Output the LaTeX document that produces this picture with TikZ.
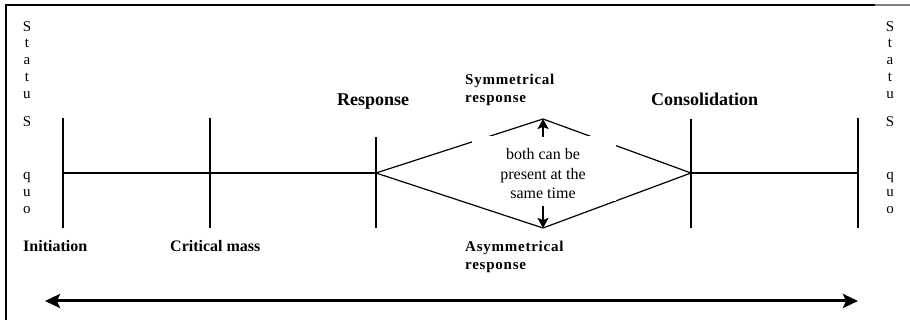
\documentclass[tikz,border=0pt]{standalone}
\usepackage{fontspec}
\setmainfont{Liberation Serif}
\newfontfamily\lsfont[LetterSpace=5]{Liberation Serif}
\usetikzlibrary{arrows.meta}
\begin{document}
\begin{tikzpicture}[x=1pt,y=-1pt,
  thinline/.style={line width=1.2pt},
  stage/.style={font=\fontsize{16}{19}\selectfont\bfseries, anchor=base west, inner sep=0pt},
  bigstage/.style={font=\fontsize{18}{21}\selectfont\bfseries, anchor=base west, inner sep=0pt},
  resp/.style={font=\fontsize{15}{18}\selectfont\lsfont\bfseries, anchor=base west, inner sep=0pt, align=left},
  sq/.style={font=\fontsize{15}{18}\selectfont, anchor=base, inner sep=0pt},
  smallarr/.style={line width=2.2pt, -{Stealth[length=10pt,width=11pt,inset=2pt]}},
  bigarr/.style={line width=3pt, {Stealth[length=15pt,width=14pt,inset=3pt]}-{Stealth[length=15pt,width=14pt,inset=3pt]}}
]
\useasboundingbox (0,0) rectangle (910,320);
% frame
\draw[line width=1.2pt] (6,320) -- (6,5) -- (875,5);
\draw[line width=1.2pt, gray] (875,5) -- (910,5);

% ticks
\coordinate (i1) at (63,118);  \coordinate (i2) at (63,228);
\coordinate (c1) at (210,118); \coordinate (c2) at (210,228);
\coordinate (r1) at (376,137); \coordinate (r2) at (376,228);
\coordinate (k1) at (691,119); \coordinate (k2) at (691,228);
\coordinate (e1) at (858,118); \coordinate (e2) at (858,228);
\draw[thinline] (i1) -- (i2) (c1) -- (c2) (r1) -- (r2) (k1) -- (k2) (e1) -- (e2);

% axis and diamond
\coordinate (a0) at (63,173);
\coordinate (dl) at (376,173);
\coordinate (dt) at (543,119);
\coordinate (dr) at (691,173);
\coordinate (db) at (543,228);
\coordinate (a1) at (858,173);
\draw[thinline] (a0) -- (dl) (dr) -- (a1);
\draw[thinline] (dl) -- (dt) -- (dr) -- (db) -- cycle;
\fill[white] (472,136) rectangle (616,201);

\node[font=\fontsize{16}{19.5}\selectfont, align=center, inner sep=0pt, anchor=base] (both) at (543,199)
  {both can be\\present at the\\same time};
\coordinate (ua) at (543,137);
\coordinate (da) at (543,206);
\draw[smallarr] (ua) -- (dt);
\draw[smallarr] (da) -- (db);

% labels
\node[bigstage] (response) at (337,106) {Response};
\node[bigstage] (consol) at (651,106) {Consolidation};
\node[stage] (init) at (23,252) {Initiation};
\node[stage] (crit) at (170,252) {Critical mass};
\node[resp] (sym) at (465,103) {Symmetrical\\response};
\node[resp] (asym) at (465,270) {Asymmetrical\\response};

% status quo
\foreach \ch/\yy [count=\n] in {S/32,t/48,a/64.5,t/82,u/98.5,S/127,q/179.5,u/196.5,o/213.5}{
  \node[sq] (sql\n) at (27,\yy) {\ch};
  \node[sq] (sqr\n) at (890,\yy) {\ch};
}

% bottom double arrow
\coordinate (bl) at (45,301);
\coordinate (br) at (858,301);
\draw[bigarr] (bl) -- (br);
\end{tikzpicture}
\end{document}
